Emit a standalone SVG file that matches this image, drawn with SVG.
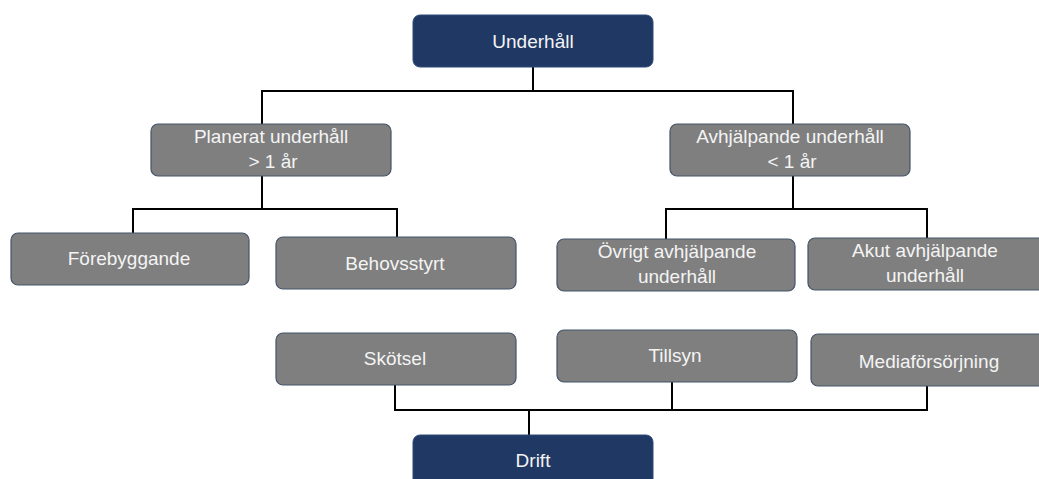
<svg xmlns="http://www.w3.org/2000/svg" width="1039" height="479" viewBox="0 0 1039 479">
<style>
.dark{fill:#203864;stroke:#2f4a78;stroke-width:1}
.gray{fill:#7f7f7f;stroke:#44546a;stroke-width:1.2}
text{font-family:"Liberation Sans",Arial,sans-serif;font-size:19px;fill:#f4f4f4;text-anchor:middle}
.conn line{stroke:#000;stroke-width:2}
</style>
<rect width="1039" height="479" fill="#ffffff"/>
<g class="conn">
<line x1="533" y1="67" x2="533" y2="91"/>
<line x1="261" y1="91" x2="794" y2="91"/>
<line x1="262" y1="91" x2="262" y2="124"/>
<line x1="793" y1="91" x2="793" y2="124"/>
<line x1="262" y1="176" x2="262" y2="209"/>
<line x1="132" y1="209" x2="398" y2="209"/>
<line x1="133" y1="209" x2="133" y2="233"/>
<line x1="397" y1="209" x2="397" y2="237"/>
<line x1="793" y1="176" x2="793" y2="209"/>
<line x1="665" y1="209" x2="928" y2="209"/>
<line x1="666" y1="209" x2="666" y2="239"/>
<line x1="927" y1="209" x2="927" y2="238"/>
<line x1="395" y1="385" x2="395" y2="410"/>
<line x1="672" y1="382" x2="672" y2="410"/>
<line x1="927" y1="386" x2="927" y2="410"/>
<line x1="394" y1="410" x2="928" y2="410"/>
<line x1="529" y1="410" x2="529" y2="435"/>
</g>
<g id="underhall"><rect class="dark" x="413" y="15" width="240" height="52" rx="7"/><text x="533" y="48">Underhåll</text></g>
<g id="planerat"><rect class="gray" x="151" y="124" width="240" height="52" rx="7"/><text x="271" y="143">Planerat underhåll</text><text x="273" y="168">&gt; 1 år</text></g>
<g id="avhjalpande"><rect class="gray" x="670" y="124" width="240" height="52" rx="7"/><text x="790" y="143">Avhjälpande underhåll</text><text x="792" y="168">&lt; 1 år</text></g>
<g id="forebyggande"><rect class="gray" x="11" y="233" width="238" height="52" rx="7"/><text x="129" y="265">Förebyggande</text></g>
<g id="behovsstyrt"><rect class="gray" x="276" y="237" width="240" height="52" rx="7"/><text x="395" y="270">Behovsstyrt</text></g>
<g id="ovrigt"><rect class="gray" x="557" y="239" width="238" height="52" rx="7"/><text x="677" y="258">Övrigt avhjälpande</text><text x="677" y="283">underhåll</text></g>
<g id="akut"><rect class="gray" x="808" y="238" width="240" height="52" rx="7"/><text x="925" y="257">Akut avhjälpande</text><text x="925" y="282">underhåll</text></g>
<g id="skotsel"><rect class="gray" x="276" y="333" width="240" height="52" rx="7"/><text x="395" y="365">Skötsel</text></g>
<g id="tillsyn"><rect class="gray" x="557" y="330" width="240" height="52" rx="7"/><text x="675" y="362">Tillsyn</text></g>
<g id="media"><rect class="gray" x="811" y="334" width="240" height="52" rx="7"/><text x="929" y="368">Mediaförsörjning</text></g>
<g id="drift"><rect class="dark" x="413" y="435" width="240" height="60" rx="7"/><text x="533" y="467">Drift</text></g>
</svg>
